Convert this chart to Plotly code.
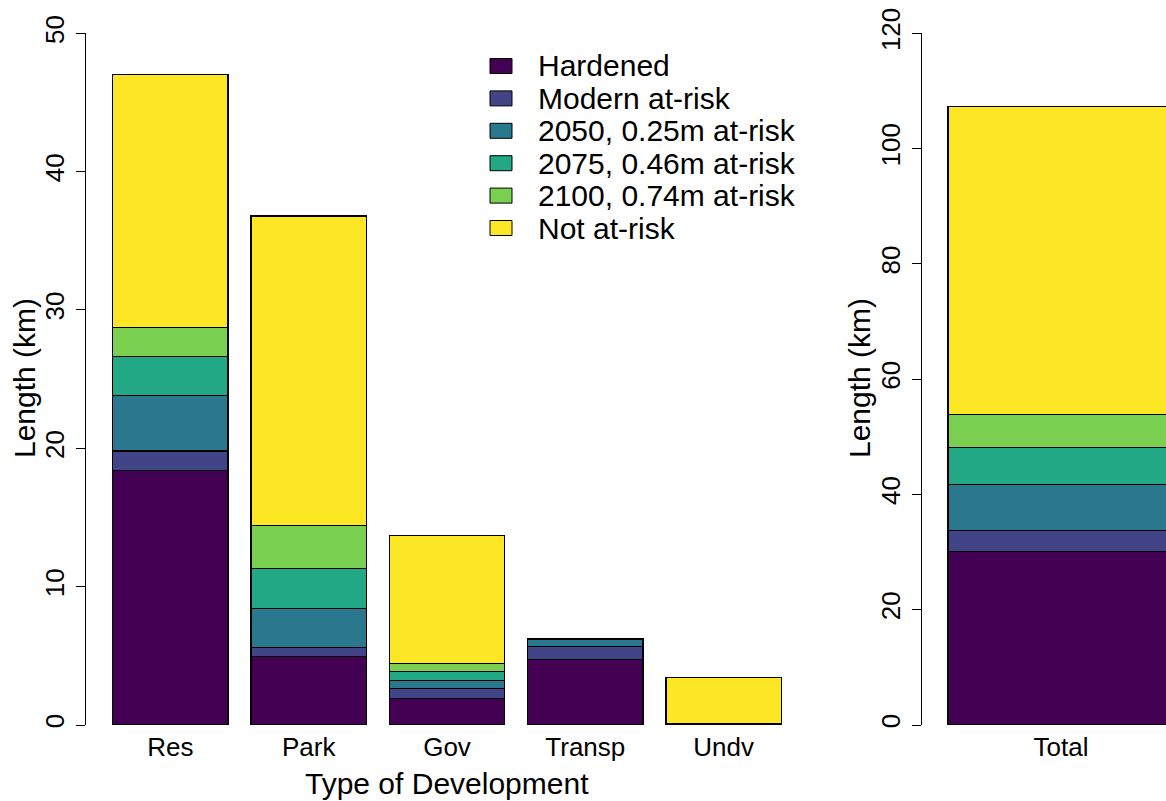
import plotly.graph_objects as go

# Shoreline length by development type, split by sea-level-rise exposure
categories = ["Res", "Park", "Gov", "Transp", "Undv"]
hardened = [18.37, 4.93, 1.94, 4.71, 0.08]
modern_at_risk = [1.43, 0.65, 0.68, 0.98, 0.0]
risk_2050 = [4.04, 2.84, 0.60, 0.49, 0.0]
risk_2075 = [2.77, 2.91, 0.67, 0.05, 0.0]
risk_2100 = [2.10, 3.08, 0.55, 0.04, 0.0]
not_at_risk = [18.33, 22.39, 9.27, 0.0, 3.35]

series_names = ["Hardened", "Modern at-risk", "2050, 0.25m at-risk",
                "2075, 0.46m at-risk", "2100, 0.74m at-risk", "Not at-risk"]
series_values = [hardened, modern_at_risk, risk_2050, risk_2075, risk_2100, not_at_risk]
colors = ["#440154", "#414487", "#2A788E", "#22A884", "#7AD151", "#FDE725"]

left_ticks = [0, 10, 20, 30, 40, 50]
right_ticks = [0, 20, 40, 60, 80, 100, 120]

W, H = 1166, 801
FONT = "Arial, Liberation Sans, sans-serif"


def px_x(x):
    return x / W


def px_y(y):
    return 1 - y / H


# bar centres: unit-width bars with 0.2 spacing
positions = [0.7 + 1.2 * i for i in range(len(categories))]

fig = go.Figure()
for name, vals, col in zip(series_names, series_values, colors):
    fig.add_trace(go.Bar(
        x=positions, y=vals, width=1.0, name=name,
        marker=dict(color=col, line=dict(color="black", width=1.2)),
        xaxis="x", yaxis="y", showlegend=False,
    ))
    fig.add_trace(go.Bar(
        x=[0], y=[sum(vals)], width=1.0, name=name,
        marker=dict(color=col, line=dict(color="black", width=1.2)),
        xaxis="x2", yaxis="y2", showlegend=False,
    ))

ydom = [px_y(725), px_y(33.3)]
yaxis_common = dict(
    showline=True, linecolor="black", linewidth=1,
    ticks="outside", ticklen=9, tickcolor="black", tickwidth=1,
    tickangle=-90, tickfont=dict(family=FONT, size=26, color="black"),
    showgrid=False, zeroline=False, domain=ydom, automargin=False,
    ticklabelstandoff=2,
)
xaxis_common = dict(
    showline=False, ticks="", showgrid=False, zeroline=False,
    tickfont=dict(family=FONT, size=26, color="black"),
    automargin=False, ticklabelstandoff=4,
)

fig.update_layout(
    width=W, height=H,
    margin=dict(l=0, r=0, t=0, b=0, autoexpand=False),
    paper_bgcolor="white", plot_bgcolor="white",
    barmode="stack",
    font=dict(family=FONT, color="black"),
    xaxis=dict(
        domain=[px_x(86), px_x(808)], range=[-0.032, 6.232],
        tickvals=positions, ticktext=categories, anchor="y", **xaxis_common,
    ),
    yaxis=dict(range=[0, 50], tickvals=left_ticks, anchor="x", **yaxis_common),
    xaxis2=dict(
        domain=[px_x(922), 1.0], range=[-0.615, 0.4646],
        tickvals=[0], ticktext=["Total"], anchor="y2", **xaxis_common,
    ),
    yaxis2=dict(range=[0, 120], tickvals=right_ticks, anchor="x2", **yaxis_common),
)

# axis titles
fig.add_annotation(text="Length (km)", x=px_x(24), y=px_y(378), xref="paper", yref="paper",
                   textangle=-90, showarrow=False, font=dict(size=30, family=FONT, color="black"),
                   xanchor="center", yanchor="middle")
fig.add_annotation(text="Length (km)", x=px_x(859), y=px_y(378), xref="paper", yref="paper",
                   textangle=-90, showarrow=False, font=dict(size=30, family=FONT, color="black"),
                   xanchor="center", yanchor="middle")
fig.add_annotation(text="Type of Development", x=px_x(447), y=px_y(783), xref="paper", yref="paper",
                   showarrow=False, font=dict(size=30, family=FONT, color="black"),
                   xanchor="center", yanchor="middle")

# legend
row_y0 = 66.0
row_step = 32.4
for i, (name, col) in enumerate(zip(series_names, colors)):
    cy = row_y0 + i * row_step
    fig.add_shape(type="rect", xref="paper", yref="paper",
                  x0=px_x(490), x1=px_x(512), y0=px_y(cy - 7.5), y1=px_y(cy + 7.5),
                  fillcolor=col, line=dict(color="black", width=1))
    fig.add_annotation(text=name, x=px_x(536), y=px_y(cy), xref="paper", yref="paper",
                       showarrow=False, xanchor="left", yanchor="middle",
                       font=dict(size=30, family=FONT, color="black"))

fig.write_html("out.html")
